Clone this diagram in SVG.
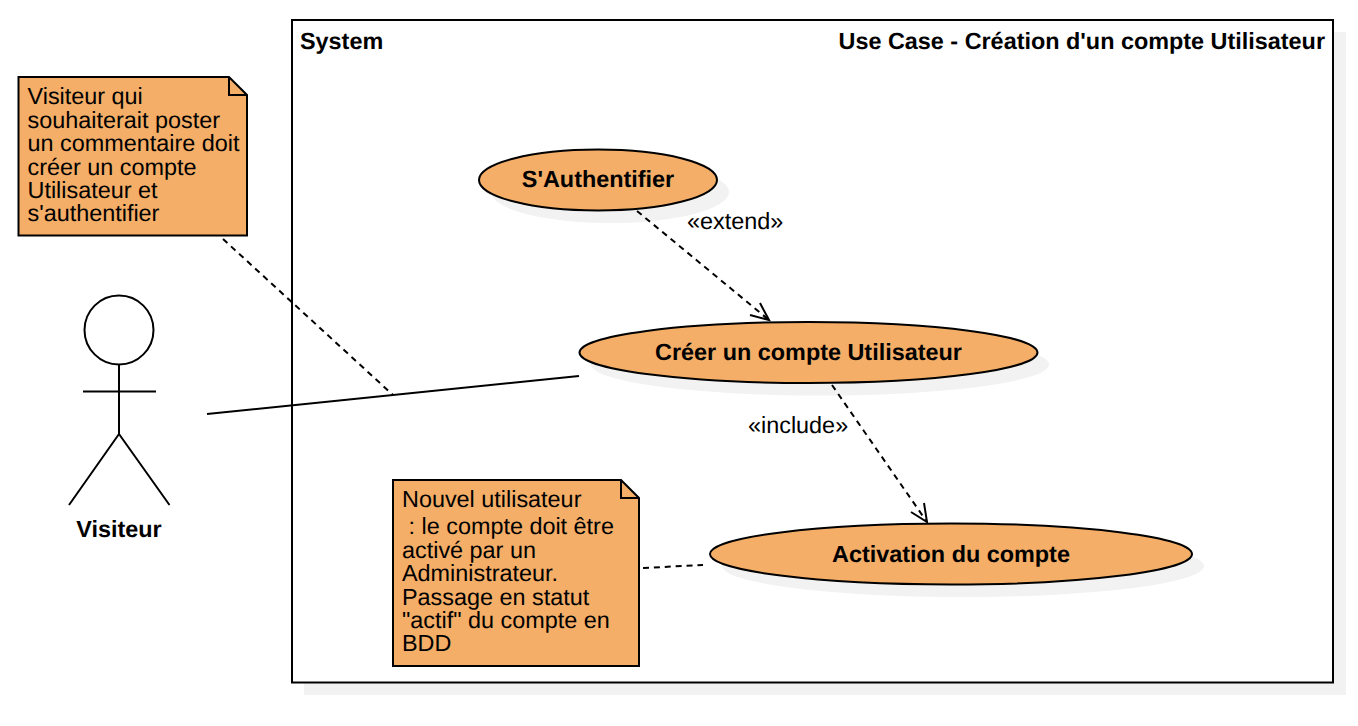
<svg xmlns="http://www.w3.org/2000/svg" width="1358" height="726" viewBox="0 0 1358 726">
<style>
text{font-family:"Liberation Sans",Arial,sans-serif;font-size:23.400px;fill:#000;text-rendering:geometricPrecision}
.b{font-weight:bold}
.m{text-anchor:middle}
.f{fill:#f4ae67;stroke:#000;stroke-width:2}
.s{fill:#f2f2f2;stroke:none}
.l{fill:none;stroke:#000;stroke-width:2}
.d{fill:none;stroke:#000;stroke-width:2;stroke-dasharray:6 4.900}
</style>
<rect width="1358" height="726" fill="#fff"/>
<g id="system">
<rect class="s" x="304" y="32" width="1042" height="663"/>
<rect x="292" y="20" width="1041" height="662.500" fill="#fff" stroke="#000" stroke-width="2"/>
<text class="b" x="300" y="49.300">System</text>
<text class="b" x="1325" y="49.300" text-anchor="end">Use Case - Création d'un compte Utilisateur</text>
</g>
<g id="note-visiteur">
<path class="f" d="M18.500 77H229L247 95V235.500H18.500Z"/>
<path class="l" d="M229 77V95H247"/>
<text x="27.500" y="104.300">Visiteur qui</text>
<text x="27.500" y="127.700">souhaiterait poster</text>
<text x="27.500" y="151.100">un commentaire doit</text>
<text x="27.500" y="174.500">créer un compte</text>
<text x="27.500" y="197.900">Utilisateur et</text>
<text x="27.500" y="221.300">s'authentifier</text>
</g>
<g id="actor-visiteur">
<circle cx="119" cy="330" r="34.500" fill="#fff" stroke="#000" stroke-width="2"/>
<path class="l" d="M119 365V434M83 391.500H156M119 434L69 505M119 434L169.500 505"/>
<text class="b m" x="119" y="537">Visiteur</text>
</g>
<g id="uc-auth">
<ellipse class="s" cx="610" cy="192" rx="119" ry="31"/>
<ellipse class="f" cx="598" cy="180" rx="119" ry="30.500"/>
<text class="b m" x="598" y="187.300">S'Authentifier</text>
</g>
<g id="uc-creer">
<ellipse class="s" cx="820" cy="364.500" rx="229" ry="31"/>
<ellipse class="f" cx="808.500" cy="352.500" rx="229" ry="30.500"/>
<text class="b m" x="808.500" y="360.300">Créer un compte Utilisateur</text>
</g>
<g id="uc-activation">
<ellipse class="s" cx="963" cy="566" rx="241" ry="31"/>
<ellipse class="f" cx="951" cy="554" rx="241" ry="30.500"/>
<text class="b m" x="951" y="562.300">Activation du compte</text>
</g>
<g id="note-activation">
<path class="f" d="M393 480H621L639 498V666H393Z"/>
<path class="l" d="M621 480V498H639"/>
<text x="402" y="507.300">Nouvel utilisateur</text>
<text x="402" y="534.300" xml:space="preserve"> : le compte doit être</text>
<text x="402" y="557.700">activé par un</text>
<text x="402" y="581.100">Administrateur.</text>
<text x="402" y="604.500">Passage en statut</text>
<text x="402" y="627.900">"actif" du compte en</text>
<text x="402" y="651.300">BDD</text>
</g>
<g id="connectors">
<path class="d" d="M223 239L393 395"/>
<path class="l" d="M207 414L579 376"/>
<path class="d" d="M637 211L769 320"/>
<path class="l" d="M750 315L769 320L760 303"/>
<path class="d" d="M832 385L927 522"/>
<path class="l" d="M911 512L927 522L924 503"/>
<path class="d" d="M643 568L703 565"/>
<text x="687" y="229.300">«extend»</text>
<text x="748" y="433.300">«include»</text>
</g>
</svg>
